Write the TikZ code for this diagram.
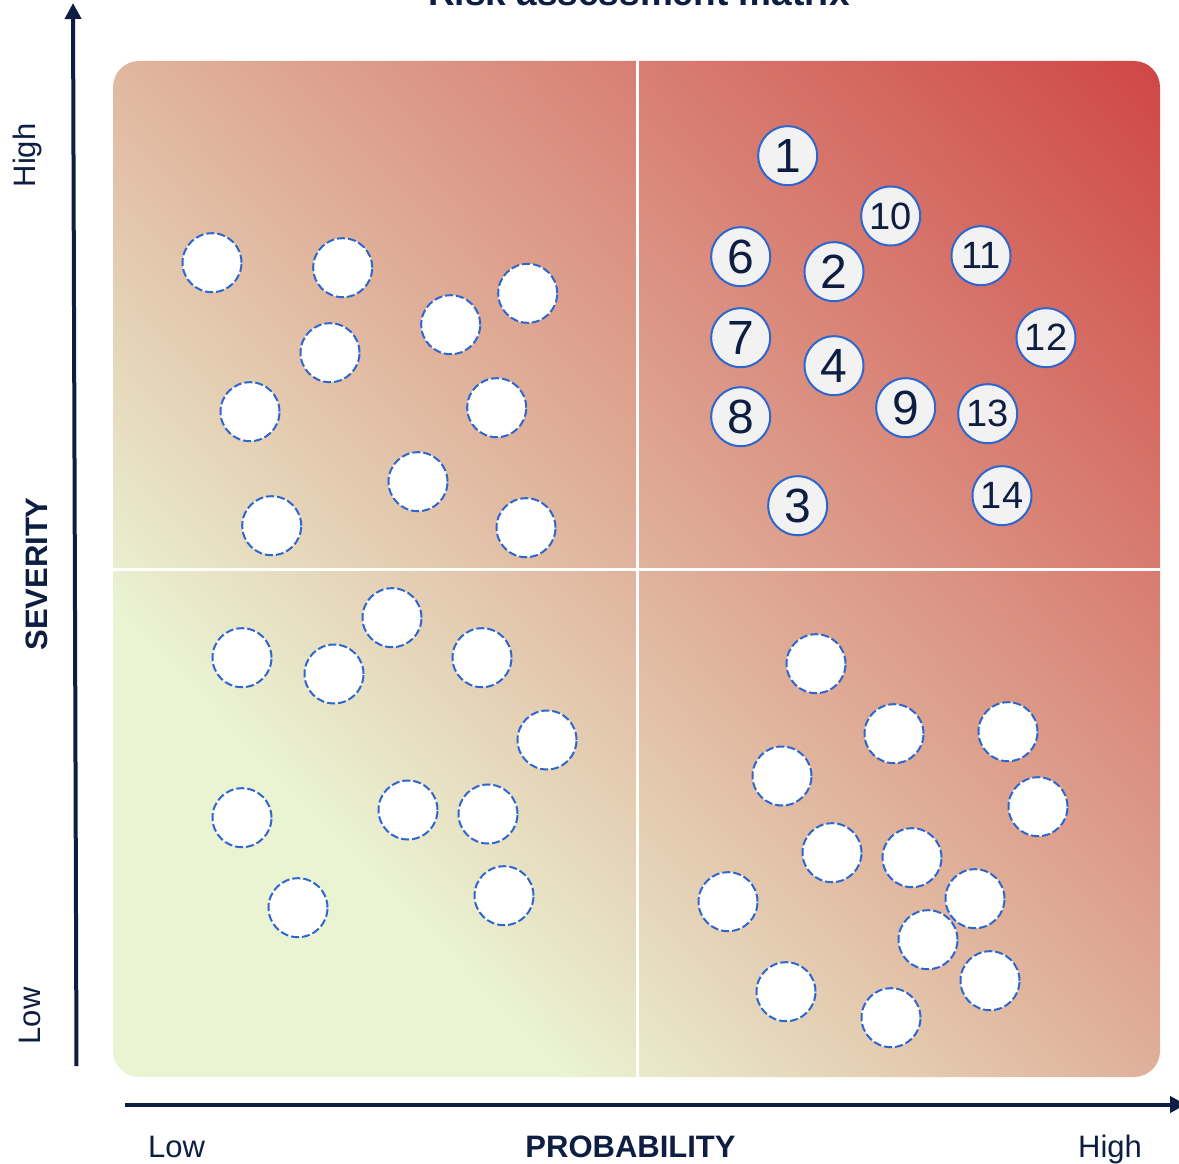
\documentclass[tikz,border=0pt]{standalone}
\usepackage{fontspec}
\setmainfont{Liberation Sans}
\usetikzlibrary{arrows.meta}
\definecolor{navy}{HTML}{0D1E42}
\definecolor{cblue}{HTML}{2E66D0}
\definecolor{rg}{HTML}{EAF4D3}
\definecolor{rp}{HTML}{E0B39C}
\definecolor{rr}{HTML}{CF4646}
\definecolor{cfill}{HTML}{F2F2F2}
\pgfdeclarehorizontalshading{riskshade}{100bp}{color(0bp)=(rg); color(36bp)=(rg); color(50bp)=(rp); color(75bp)=(rr); color(100bp)=(rr)}
\begin{document}
\begin{tikzpicture}[x=1pt,y=-1pt,
  riskc/.style={circle, minimum size=59pt, inner sep=0pt, draw=cblue, line width=2pt, fill=cfill, text=navy, font=\fontsize{48}{48}\selectfont},
  riskcc/.style={riskc, font=\fontsize{38}{38}\selectfont},
  emptyc/.style={circle, minimum size=59pt, inner sep=0pt, draw=cblue, line width=2pt, fill=white, dash pattern=on 8pt off 3pt},
  axisarrow/.style={draw=navy, line width=4pt, -{Triangle[length=16pt,width=16pt]}},
  lbl/.style={text=navy, font=\fontsize{31}{31}\selectfont, inner sep=0pt, anchor=base},
  axttl/.style={text=navy, font=\fontsize{31}{31}\selectfont\bfseries, inner sep=0pt, anchor=base},
  divider/.style={draw=white, line width=2.5pt}
]
\useasboundingbox (0,0) rectangle (1179,1164);

% background with diagonal gradient
\begin{scope}
  \clip[rounded corners=26pt] (113,61) rectangle (1160,1077);
  \begin{scope}[transform canvas={rotate around={44.1:(636.5,569)}}]
    \shade[shading=riskshade] (-93.5,-231) rectangle (1366.5,1369);
  \end{scope}
\end{scope}

% dividers
\coordinate (vt) at (637.5,61);
\coordinate (vb) at (637.5,1077);
\coordinate (hl) at (113,569.5);
\coordinate (hr) at (1160,569.5);
\draw[divider] (vt) -- (vb);
\draw[divider] (hl) -- (hr);

% axes
\coordinate (ya0) at (76.5,1066);
\coordinate (ya1) at (73,3);
\coordinate (xa0) at (125,1104.5);
\coordinate (xa1) at (1186,1104.5);
\draw[axisarrow] (ya0) -- (ya1);
\draw[axisarrow] (xa0) -- (xa1);

% title (cut off at top)
\node[text=navy, font=\fontsize{37}{37}\selectfont\bfseries, inner sep=0pt, anchor=base] (title) at (639,6) {Risk assessment matrix};

% axis labels
\node[lbl] (xlow) at (176.5,1157) {Low};
\node[lbl] (xhigh) at (1110,1157) {High};
\node[axttl] (xttl) at (630.5,1157) {PROBABILITY};
\node[lbl, rotate=90] (ylow) at (40,1016) {Low};
\node[lbl, rotate=90] (yhigh) at (35,155.5) {High};
\node[axttl, rotate=90] (yttl) at (47,574) {SEVERITY};

% empty dashed circles
\foreach \px/\py [count=\i] in {
  212/262.7, 342.7/267.7, 527.7/293.3, 450.7/324.7, 330/352.7, 250/411.7, 496.7/407.7, 418/481.7, 271.7/525.7, 526/527.7,
  392/617.7, 242/657.7, 482/657.7, 334/674, 547/740, 242/817.7, 408/810, 488/814, 298/907.7, 504/895.7,
  816/663.7, 894/733.7, 1008/731.7, 782/776, 1038/806.7, 832/852.7, 912/857.7, 728/901.7, 975/898.7, 928/939.7, 990/980.7, 786/991.7, 891/1017.7}
  \node[emptyc] (e\i) at (\px,\py) {};

% numbered risks
\node[riskc] (r1) at (787.7,155.7) {1};
\node[riskc] (r2) at (834,271.7) {2};
\node[riskc] (r3) at (797.7,505.7) {3};
\node[riskc] (r4) at (834,365.7) {4};
\node[riskc] (r6) at (740.7,256.7) {6};
\node[riskc] (r7) at (740.7,337.7) {7};
\node[riskc] (r8) at (740.7,416.7) {8};
\node[riskc] (r9) at (905.7,407.7) {9};
\node[riskcc] (r10) at (890.7,216) {10};
\node[riskcc] (r11) at (981,255.7) {11};
\node[riskcc] (r12) at (1046,337.7) {12};
\node[riskcc] (r13) at (987.7,413.7) {13};
\node[riskcc] (r14) at (1002,495.7) {14};
\end{tikzpicture}
\end{document}
